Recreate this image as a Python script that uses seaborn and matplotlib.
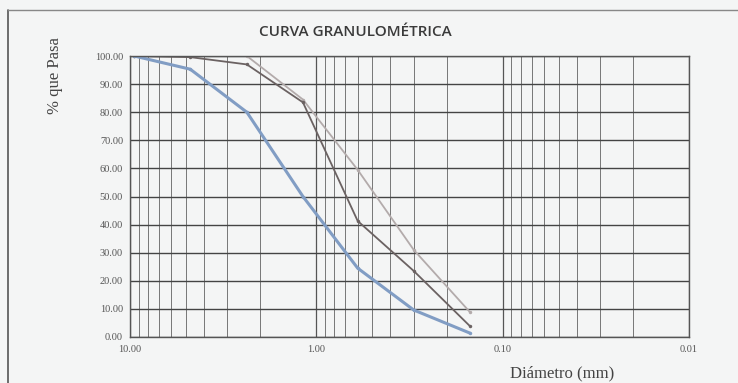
import matplotlib
matplotlib.use("Agg")
import matplotlib.pyplot as plt
import seaborn as sns
import pandas as pd
from matplotlib.lines import Line2D
from matplotlib.ticker import FixedLocator, LogLocator, NullFormatter

# ---- data ----
diametro = [9.5, 4.75, 2.36, 1.18, 0.6, 0.3, 0.15]
serie_azul = [100.0, 95.3, 80.0, 50.0, 24.5, 9.6, 1.4]
serie_oscura = [100.0, 99.6, 97.0, 83.5, 41.3, 23.5, 3.9]
serie_clara = [100.0, 100.0, 100.0, 84.5, 59.5, 31.0, 8.9]
y_ticks = [0, 10, 20, 30, 40, 50, 60, 70, 80, 90, 100]
x_ticks = [10.0, 1.0, 0.1, 0.01]

rows = []
for name, vals in [("azul", serie_azul), ("oscura", serie_oscura), ("clara", serie_clara)]:
    for d, v in zip(diametro, vals):
        rows.append({"d": d, "p": v, "serie": name})
df = pd.DataFrame(rows)

sns.set_theme(style="white")
plt.rcParams["font.family"] = ["Liberation Serif", "DejaVu Serif"]

bg = "#f4f5f5"
fig = plt.figure(figsize=(7.38, 3.83), dpi=100, facecolor=bg)
ax = fig.add_axes([130/738, 1-337/383, (689-130)/738, (337-56)/383])
ax.set_facecolor(bg)

palette = {"clara": "#b3abab", "oscura": "#6b6262", "azul": "#819dc4"}
widths = {"clara": 1.3, "oscura": 1.3, "azul": 2.2}
for name in ["clara", "oscura", "azul"]:
    sub = df[df["serie"] == name]
    sns.lineplot(data=sub, x="d", y="p", ax=ax, color=palette[name],
                 linewidth=widths[name], marker="o", markersize=2.5,
                 markeredgewidth=0, estimator=None, sort=False, legend=False)

ax.set_xscale("log")
ax.set_xlim(10, 0.01)
ax.set_ylim(0, 100)
ax.xaxis.set_major_locator(FixedLocator(x_ticks))
ax.xaxis.set_minor_locator(LogLocator(base=10, subs=range(2, 10)))
ax.xaxis.set_minor_formatter(NullFormatter())
ax.set_xticks(x_ticks)
ax.set_xticklabels([f"{t:.2f}" for t in x_ticks])
ax.set_yticks(y_ticks)
ax.set_yticklabels([f"{t:.2f}" for t in y_ticks])
ax.grid(True, which="major", axis="y", color="#444444", linewidth=1.0)
ax.grid(True, which="major", axis="x", color="#555555", linewidth=0.9)
ax.grid(True, which="minor", axis="x", color="#777777", linewidth=0.7)
ax.set_axisbelow(True)
for s in ax.spines.values():
    s.set_color("#555555")
    s.set_linewidth(1.0)
ax.tick_params(axis="y", which="both", length=0, labelsize=7.5, colors="#555555", pad=5)
ax.tick_params(axis="x", which="both", length=0, labelsize=7.5, colors="#555555", pad=6)

ax.set_xlabel("")
ax.set_ylabel("")
fig.text(55/738, 1-76/383, "% que Pasa", ha="center", va="center", rotation=90,
         fontsize=12, color="#444444")
fig.text(562/738, 1-373/383, "Diámetro (mm)", ha="center", va="center",
         fontsize=12, color="#444444")
fig.text(355/738, 1-32/383, "CURVA GRANULOMÉTRICA", ha="center", va="center",
         fontsize=11, fontweight="semibold", color="#3a3a3a",
         family=["Open Sans", "DejaVu Sans"])

# outer chart frame (left and top edges visible)
fig.add_artist(Line2D([8/738, 8/738], [0, 1-10/383], transform=fig.transFigure,
                      color="#555555", linewidth=1.2))
fig.add_artist(Line2D([8/738, 1], [1-10/383, 1-10/383], transform=fig.transFigure,
                      color="#888888", linewidth=1.0))

fig.savefig("out.png", dpi=100, facecolor=bg)
